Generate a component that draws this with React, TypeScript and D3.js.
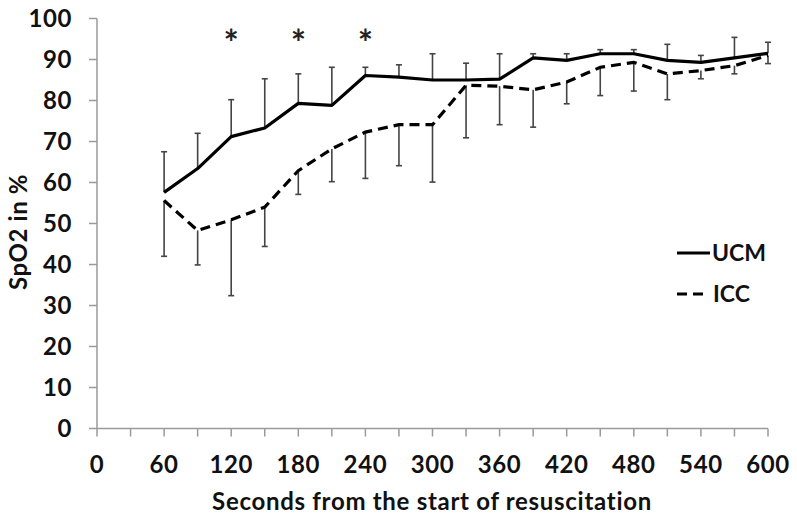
import React from "react";
import * as d3 from "d3";

const seconds = [60, 90, 120, 150, 180, 210, 240, 270, 300, 330, 360, 390, 420, 450, 480, 510, 540, 570, 600];
const ucmMean = [57.6, 63.4, 71.2, 73.3, 79.3, 78.8, 86.1, 85.7, 85.0, 85.0, 85.2, 90.4, 89.8, 91.4, 91.4, 89.8, 89.3, 90.4, 91.5];
const ucmUpper = [67.5, 72.0, 80.2, 85.3, 86.5, 88.1, 88.1, 88.7, 91.4, 89.1, 91.4, 91.4, 91.4, 92.4, 92.4, 93.7, 91.0, 95.4, 94.2];
const iccMean = [55.6, 48.3, 50.9, 54.0, 62.9, 68.2, 72.3, 74.1, 74.1, 83.7, 83.5, 82.6, 84.5, 88.1, 89.3, 86.5, 87.3, 88.5, 91.0];
const iccLower = [42.0, 39.9, 32.4, 44.4, 57.1, 60.2, 61.0, 64.1, 60.1, 70.9, 74.1, 73.5, 79.2, 81.2, 82.3, 80.2, 85.3, 86.5, 89.0];
const significant = [120, 180, 240];
const xTicks = [0, 60, 120, 180, 240, 300, 360, 420, 480, 540, 600];
const xMinorTicks = d3.range(0, 601, 30);
const yTicks = [0, 10, 20, 30, 40, 50, 60, 70, 80, 90, 100];

const W = 797;
const H = 519;
const left = 97;
const right = 768;
const top = 18.5;
const bottom = 428.5;
const FONT = "Lato, 'Open Sans', sans-serif";
const AXIS = "#9a9a9a";
const FS = 24;

export default function App() {
  const x = d3.scaleLinear().domain([0, 600]).range([left, right]);
  const y = d3.scaleLinear().domain([0, 100]).range([bottom, top]);
  const line = d3
    .line<number>()
    .x((_, i) => x(seconds[i]))
    .y((d) => y(d));
  const capW = 3;

  return (
    <svg width={W} height={H} style={{ position: "absolute", left: 0, top: 0, background: "#fff" }}>
      <rect width={W} height={H} fill="#fff" />
      {/* y axis */}
      <line x1={left} x2={left} y1={top} y2={bottom} stroke={AXIS} strokeWidth={1.5} />
      {yTicks.map((t) => (
        <g key={"y" + t}>
          <line x1={left - 8} x2={left} y1={y(t)} y2={y(t)} stroke={AXIS} strokeWidth={1.5} />
          <text x={72} y={y(t)} dy="0.35em" textAnchor="end" fontFamily={FONT} fontWeight={700} fontSize={FS} letterSpacing={0.6} fill="#111">
            {t}
          </text>
        </g>
      ))}
      {/* x axis */}
      <line x1={left} x2={right} y1={bottom} y2={bottom} stroke={AXIS} strokeWidth={1.5} />
      {xMinorTicks.map((t) => (
        <line key={"xm" + t} x1={x(t)} x2={x(t)} y1={bottom} y2={bottom + 8} stroke={AXIS} strokeWidth={1.5} />
      ))}
      {xTicks.map((t) => (
        <text key={"xl" + t} x={x(t)} y={473} textAnchor="middle" fontFamily={FONT} fontWeight={700} fontSize={FS} letterSpacing={0.6} fill="#111">
          {t}
        </text>
      ))}
      <text x={432} y={510} textAnchor="middle" fontFamily={FONT} fontWeight={700} fontSize={FS} letterSpacing={0.7} fill="#111">
        Seconds from the start of resuscitation
      </text>
      <text
        transform={`translate(27,232) rotate(-90)`}
        textAnchor="middle"
        fontFamily={FONT}
        fontWeight={700}
        fontSize={FS}
        letterSpacing={0.6}
        fill="#111"
      >
        SpO2 in %
      </text>
      {/* error bars */}
      {seconds.map((s, i) => (
        <g key={"eu" + s} stroke="#444" strokeWidth={1.6}>
          <line x1={x(s)} x2={x(s)} y1={y(ucmMean[i])} y2={y(ucmUpper[i])} />
          <line x1={x(s) - capW} x2={x(s) + capW} y1={y(ucmUpper[i])} y2={y(ucmUpper[i])} />
        </g>
      ))}
      {seconds.map((s, i) => (
        <g key={"ei" + s} stroke="#444" strokeWidth={1.6}>
          <line x1={x(s)} x2={x(s)} y1={y(iccMean[i])} y2={y(iccLower[i])} />
          <line x1={x(s) - capW} x2={x(s) + capW} y1={y(iccLower[i])} y2={y(iccLower[i])} />
        </g>
      ))}
      {/* lines */}
      <path d={line(ucmMean) || ""} fill="none" stroke="#000" strokeWidth={3.2} strokeLinejoin="round" />
      <path d={line(iccMean) || ""} fill="none" stroke="#000" strokeWidth={3.2} strokeDasharray="10,6" />
      {/* asterisks */}
      {significant.map((s) => (
        <text key={"a" + s} x={x(s)} y={56} textAnchor="middle" fontFamily={FONT} fontWeight={700} fontSize={36} fill="#222">
          *
        </text>
      ))}
      {/* legend */}
      <line x1={677} x2={710} y1={253} y2={253} stroke="#000" strokeWidth={3.2} />
      <text x={712} y={253} dy="0.36em" fontFamily={FONT} fontWeight={700} fontSize={23} fill="#111">
        UCM
      </text>
      <line x1={677} x2={708} y1={294} y2={294} stroke="#000" strokeWidth={3.2} strokeDasharray="10,6" />
      <text x={713} y={294} dy="0.36em" fontFamily={FONT} fontWeight={700} fontSize={23} fill="#111">
        ICC
      </text>
    </svg>
  );
}
